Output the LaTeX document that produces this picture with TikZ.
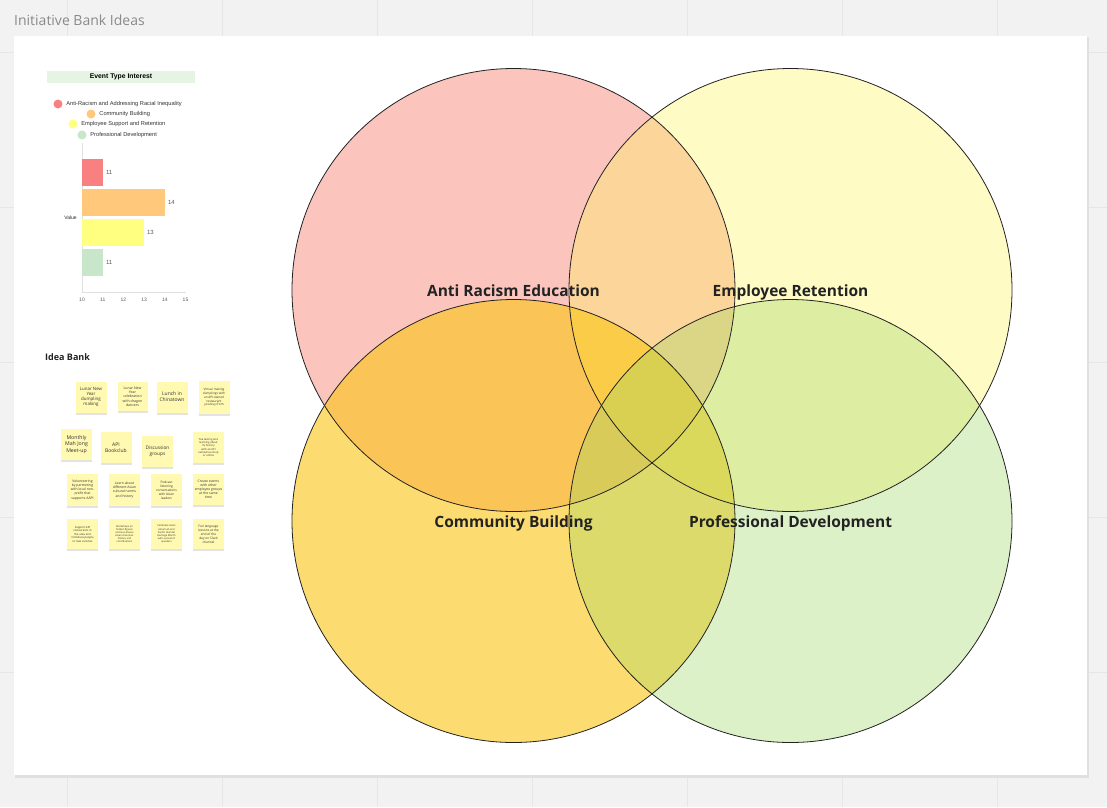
\documentclass[tikz,border=0pt]{standalone}
\usepackage{fontspec}
\setmainfont{Open Sans}
\newfontfamily\chartfont{Liberation Sans}
\usetikzlibrary{positioning,shadows}
\usepackage{xcolor}
\definecolor{pageGray}{HTML}{F2F2F2}
\definecolor{gridGray}{HTML}{E6E6E6}
\definecolor{titleGray}{HTML}{8A8A8A}
\definecolor{vennRed}{HTML}{F65945}
\definecolor{vennYellow}{HTML}{FFF459}
\definecolor{vennOrange}{HTML}{FAC611}
\definecolor{vennGreen}{HTML}{9ED762}
\definecolor{barRed}{HTML}{F88080}
\definecolor{barOrange}{HTML}{FFC87A}
\definecolor{barYellow}{HTML}{FFFF80}
\definecolor{barGreen}{HTML}{C8E6C9}
\definecolor{headGreen}{HTML}{E6F4E4}
\definecolor{stickyYellow}{HTML}{FFF9B1}
\definecolor{inkText}{HTML}{222222}
\tikzset{
venn/.style={circle, minimum size=443pt, inner sep=0pt},
vennline/.style={draw=inkText, line width=0.8pt},
vennlabel/.style={anchor=base, inner sep=0pt, font=\fontsize{15.5}{18}\selectfont\bfseries, text=inkText},
gridline/.style={draw=gridGray, line width=0.8pt},
bar/.style={anchor=west, minimum height=27pt, inner sep=0pt},
barvalue/.style={font=\chartfont\fontsize{6}{7}\selectfont, text=black!65, inner sep=0pt},
tick/.style={font=\chartfont\fontsize{5}{6}\selectfont, text=black!65, inner sep=0pt},
legenddot/.style={circle, minimum size=9pt, inner sep=0pt},
legendtext/.style={font=\chartfont\fontsize{5.7}{6.5}\selectfont, text=black!80, inner sep=0pt, anchor=west},
sticky/.style={fill=stickyYellow, minimum width=31pt, minimum height=31pt, inner sep=0.5pt, align=center, text=black!80,
  drop shadow={shadow xshift=0pt, shadow yshift=-2pt, opacity=0.22}}
}

\begin{document}
\begin{tikzpicture}[x=1pt,y=-1pt]
\useasboundingbox (0,0) rectangle (1107,807);
% board background and grid
\fill[pageGray] (0,0) rectangle (1107,807);
\foreach \x in {67,222,...,997}
  \draw[gridline] (\x,0) -- (\x,807);
\foreach \y in {52,207,...,672}
  \draw[gridline] (0,\y) -- (1107,\y);
\node[anchor=west, font=\fontsize{14}{16}\selectfont, text=titleGray, inner sep=0pt] (boardTitle) at (14,20) {Initiative Bank Ideas};
% frame
\fill[black!12] (15,37) rectangle (1089,777.5);
\fill[white] (14,36) rectangle (1087,775);

% venn circles
\node[venn, fill=vennRed, fill opacity=0.35] (racism) at (513.5,290) {};
\node[venn, fill=vennYellow, fill opacity=0.35] (retention) at (790.5,290) {};
\node[venn, fill=vennOrange, fill opacity=0.6] (community) at (513.5,521) {};
\node[venn, fill=vennGreen, fill opacity=0.35] (growth) at (790.5,521) {};
\foreach \c in {racism,retention,community,growth}
  \draw[vennline] (\c) circle[radius=221.5pt];
\node[vennlabel] (racismLabel) at (513.5,296) {Anti Racism Education};
\node[vennlabel] (retentionLabel) at (790.5,296) {Employee Retention};
\node[vennlabel] (communityLabel) at (513.5,527) {Community Building};
\node[vennlabel] (growthLabel) at (790.5,527) {Professional Development};

% chart: event type interest
\node[fill=headGreen, minimum width=148pt, minimum height=12pt, inner sep=0pt, font=\chartfont\bfseries\fontsize{6.8}{7.5}\selectfont] (chartHead) at (121,77) {Event Type Interest};
\node[legenddot, fill=barRed] (dotRacism) at (58,104) {};
\node[legenddot, fill=barOrange] (dotCommunity) at (91,114) {};
\node[legenddot, fill=barYellow] (dotRetention) at (73,124) {};
\node[legenddot, fill=barGreen] (dotGrowth) at (82,135) {};
\node[legendtext, right=3.5pt of dotRacism] {Anti-Racism and Addressing Racial Inequality};
\node[legendtext, right=3.5pt of dotCommunity] {Community Building};
\node[legendtext, right=3.5pt of dotRetention] {Employee Support and Retention};
\node[legendtext, right=3.5pt of dotGrowth] {Professional Development};
\draw[black!12, line width=0.6pt] (82,143) -- (82,292) -- (186,292);
\node[bar, fill=barRed, minimum width=21pt] (barRacism) at (82,172.5) {};
\node[bar, fill=barOrange, minimum width=83pt] (barCommunity) at (82,202.5) {};
\node[bar, fill=barYellow, minimum width=62pt] (barRetention) at (82,232.5) {};
\node[bar, fill=barGreen, minimum width=21pt] (barGrowth) at (82,262.5) {};
\node[barvalue, right=2.5pt of barRacism] {11};
\node[barvalue, right=2.5pt of barCommunity] {14};
\node[barvalue, right=2.5pt of barRetention] {13};
\node[barvalue, right=2.5pt of barGrowth] {11};
\node[tick, text=black!85] (axisName) at (70.5,218) {Value};
\foreach \v [count=\i from 0] in {10,...,15}
  \node[tick] (tick\v) at (82+20.7*\i,299.5) {\v};

% idea bank
\node[anchor=west, inner sep=0pt, font=\fontsize{9}{11}\selectfont\bfseries, text=inkText] (bankTitle) at (45,357) {Idea Bank};
\node[sticky, font=\fontsize{4.4}{5.2}\selectfont] (idea11) at (91,397) {Lunar New\\Year\\dumpling\\making};
\node[sticky, font=\fontsize{3.5}{4.3}\selectfont, minimum width=30pt, minimum height=29pt] (idea12) at (132.5,396.5) {Lunar New\\Year\\celebration\\with dragon\\dancers};
\node[sticky, font=\fontsize{5}{6}\selectfont] (idea13) at (172,397) {Lunch in\\Chinatown};
\node[sticky, font=\fontsize{3.1}{3.8}\selectfont, minimum height=33pt] (idea14) at (214,397.5) {Virtual making\\dumplings with\\an API-owned\\restaurant\\you buy from};
\node[sticky, font=\fontsize{5.2}{6.2}\selectfont] (idea21) at (76.5,444.5) {Monthly\\Mah Jong\\Meet-up};
\node[sticky, font=\fontsize{5}{6}\selectfont] (idea22) at (116,447.5) {API\\Bookclub};
\node[sticky, font=\fontsize{4.8}{6}\selectfont] (idea23) at (157.5,451.5) {Discussion\\groups};
\node[sticky, font=\fontsize{2.7}{3.3}\selectfont] (idea24) at (208.5,447.5) {Tea tasting and\\learning about\\its history\\with an API\\owned tea shop\\or online};
\node[sticky, font=\fontsize{3.4}{4.1}\selectfont, minimum height=32pt] (idea31) at (82.5,490) {Volunteering\\by partnering\\with local non-\\profit that\\supports AAPI};
\node[sticky, font=\fontsize{3.4}{4.1}\selectfont, minimum height=32pt] (idea32) at (124.5,490) {Learn about\\different Asian\\cultural norms\\and history};
\node[sticky, font=\fontsize{3.2}{3.9}\selectfont, minimum height=32pt] (idea33) at (166.5,490) {Podcast\\listening\\conversations\\with Asian\\leaders};
\node[sticky, font=\fontsize{3.4}{4.1}\selectfont] (idea34) at (208.5,489.5) {Create events\\with other\\employee groups\\at the same\\time};
\node[sticky, font=\fontsize{2.8}{3.5}\selectfont, minimum height=30pt] (idea41) at (82.5,534) {Support API\\restaurants in\\the area and\\introduce people\\to new cuisines};
\node[sticky, font=\fontsize{2.5}{3.1}\selectfont, minimum height=30pt] (idea42) at (124.5,534) {Workshops on\\hidden figures\\and less-known\\Asian American\\history and\\contributions};
\node[sticky, font=\fontsize{2.5}{3.1}\selectfont, minimum height=30pt] (idea43) at (166.5,534) {Celebrate Asian\\American and\\Pacific Islander\\Heritage Month\\with a panel of\\speakers};
\node[sticky, font=\fontsize{3.2}{3.9}\selectfont, minimum height=30pt] (idea44) at (208.5,534) {Fun language\\lessons at the\\end of the\\day on Slack\\channel};
\end{tikzpicture}
\end{document}
